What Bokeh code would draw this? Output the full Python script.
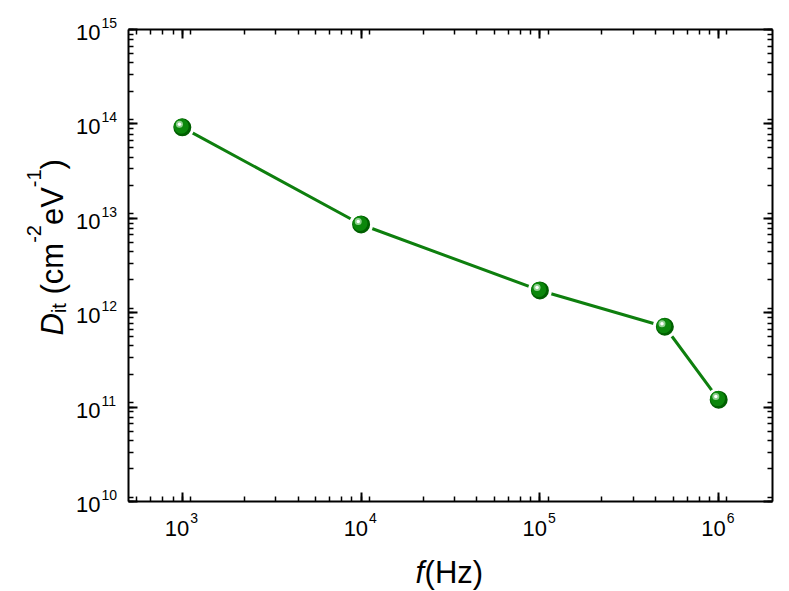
import math
from bokeh.plotting import figure
from bokeh.models import (Range1d, LogAxis, LogTicker, CustomJSTickFormatter,
                          ColumnDataSource, LabelSet, Label)
from bokeh.core.properties import value
from bokeh.embed import file_html
from bokeh.resources import INLINE

# ---------------- data ----------------
freq = [1e3, 1e4, 1e5, 5e5, 1e6]
dit = [9.2e13, 8.6e12, 1.72e12, 7.1e11, 1.2e11]

x_tick_vals = [1e3, 1e4, 1e5, 1e6]
x_tick_exp = ["3", "4", "5", "6"]
y_tick_vals = [1e10, 1e11, 1e12, 1e13, 1e14, 1e15]
y_tick_exp = ["10", "11", "12", "13", "14", "15"]

X_MIN, X_MAX = 500, 2e6
Y_MIN, Y_MAX = 1e10, 1e15

# ---------------- layout (pixels) ----------------
W, H = 781, 591
BOX_L, BOX_R, BOX_T, BOX_B = 128, 772, 29, 501

lx0, lx1 = math.log10(X_MIN), math.log10(X_MAX)
ly0, ly1 = math.log10(Y_MIN), math.log10(Y_MAX)
ppd_x = (BOX_R - BOX_L) / (lx1 - lx0)
ppd_y = (BOX_B - BOX_T) / (ly1 - ly0)
x_lo = 10 ** (lx0 - BOX_L / ppd_x)
x_hi = 10 ** (lx1 + (W - BOX_R) / ppd_x)
y_lo = 10 ** (ly0 - (H - BOX_B) / ppd_y)
y_hi = 10 ** (ly1 + BOX_T / ppd_y)

FONT = "Liberation Sans"
GREEN_LINE = "#0e7f0e"

p = figure(width=W, height=H, x_axis_type="log", y_axis_type="log",
           x_axis_location=None, y_axis_location=None,
           x_range=Range1d(x_lo, x_hi), y_range=Range1d(y_lo, y_hi),
           output_backend="svg", toolbar_location=None,
           min_border=0, min_border_left=0, min_border_right=0,
           min_border_top=0, min_border_bottom=0)
p.background_fill_color = "white"
p.border_fill_color = "white"
p.outline_line_color = None
p.grid.visible = False

empty = CustomJSTickFormatter(code="return ''")

def make_axis(fixed, bounds):
    ax = LogAxis(fixed_location=fixed, bounds=bounds,
                 ticker=LogTicker(num_minor_ticks=9, desired_num_ticks=6))
    ax.formatter = empty
    ax.major_label_text_font_size = "0px"
    ax.major_label_standoff = 0
    ax.axis_label = None
    ax.axis_line_width = 2
    ax.axis_line_color = "black"
    ax.major_tick_in = 9
    ax.major_tick_out = 0
    ax.minor_tick_in = 5
    ax.minor_tick_out = 0
    ax.major_tick_line_width = 2
    ax.minor_tick_line_width = 1.5
    ax.major_tick_line_color = "black"
    ax.minor_tick_line_color = "black"
    return ax

p.add_layout(make_axis(Y_MIN, (X_MIN, X_MAX)), "below")
p.add_layout(make_axis(Y_MAX, (X_MIN, X_MAX)), "above")
p.add_layout(make_axis(X_MIN, (Y_MIN, Y_MAX)), "left")
p.add_layout(make_axis(X_MAX, (Y_MIN, Y_MAX)), "right")

# ---------------- data marks ----------------
src = ColumnDataSource(dict(x=freq, y=dit))
p.line("x", "y", source=src, line_color=GREEN_LINE, line_width=3)
p.scatter("x", "y", source=src, size=21, fill_color="#005f00",
          line_color="white", line_width=3)

# shading of the balls (shifted slightly up-left, in decades)
sh1 = ColumnDataSource(dict(x=[v * 10 ** -0.006 for v in freq],
                            y=[v * 10 ** 0.011 for v in dit]))
p.scatter("x", "y", source=sh1, size=15, fill_color="#0b870b", line_color=None)
sh2 = ColumnDataSource(dict(x=[v * 10 ** -0.016 for v in freq],
                            y=[v * 10 ** 0.032 for v in dit]))
p.scatter("x", "y", source=sh2, size=7, fill_color="#8fcf8f", line_color=None)
p.scatter("x", "y", source=sh2, size=3.5, fill_color="white", line_color=None)

# ---------------- tick labels ----------------
xs = ColumnDataSource(dict(x=x_tick_vals, y=[Y_MIN] * len(x_tick_vals),
                           base=["10"] * len(x_tick_vals), e=x_tick_exp))
p.add_layout(LabelSet(x="x", y="y", text="base", source=xs, x_offset=7, y_offset=-34,
                      text_align="right", text_baseline="alphabetic",
                      text_font=value(FONT), text_font_size="22px", text_color="black"))
p.add_layout(LabelSet(x="x", y="y", text="e", source=xs, x_offset=8, y_offset=-21,
                      text_align="left", text_baseline="alphabetic",
                      text_font=value(FONT), text_font_size="14px", text_color="black"))

ys = ColumnDataSource(dict(x=[X_MIN] * len(y_tick_vals), y=y_tick_vals,
                           base=["10"] * len(y_tick_vals), e=y_tick_exp))
p.add_layout(LabelSet(x="x", y="y", text="base", source=ys, x_offset=-28, y_offset=-10.5,
                      text_align="right", text_baseline="alphabetic",
                      text_font=value(FONT), text_font_size="22px", text_color="black"))
p.add_layout(LabelSet(x="x", y="y", text="e", source=ys, x_offset=-27, y_offset=1.5,
                      text_align="left", text_baseline="alphabetic",
                      text_font=value(FONT), text_font_size="14px", text_color="black"))

# ---------------- axis titles ----------------
def lab(text, dx, dy, size, style="normal", angle=0.0):
    p.add_layout(Label(x=X_MIN, y=Y_MIN, x_offset=dx, y_offset=dy, text=text,
                       text_font=FONT, text_font_size=f"{size}px",
                       text_font_style=style, text_color="black",
                       text_align="left", text_baseline="alphabetic",
                       angle=angle))

# x title: f(Hz)
XS = 31
lab("f", 287, -71, XS, "italic")
lab("(Hz)", 287 + 0.278 * XS + 0.5, -71, XS)

# y title: D_it (cm^-2 eV^-1), rotated
MS, SS = 31, 20
base_dx = -76          # baseline position relative to box left
pos = 166              # distance above box bottom where the text starts
rot = math.pi / 2
lab("D", base_dx, pos, MS, "italic", rot)
pos += 0.722 * MS
lab("it", base_dx + 6, pos, SS, "normal", rot)
pos += 0.5 * SS + 0.278 * MS
lab("(cm", base_dx, pos, MS, "normal", rot)
pos += (0.333 + 0.5 + 0.833) * MS
lab("-2", base_dx - 19, pos, SS, "normal", rot)
pos += 0.889 * SS
lab("eV", base_dx, pos, MS, "normal", rot)
pos += 1.223 * MS
lab("-1", base_dx - 19, pos, SS, "normal", rot)
pos += 0.889 * SS
lab(")", base_dx, pos, MS, "normal", rot)

open("out.html", "w").write(file_html(p, INLINE))
